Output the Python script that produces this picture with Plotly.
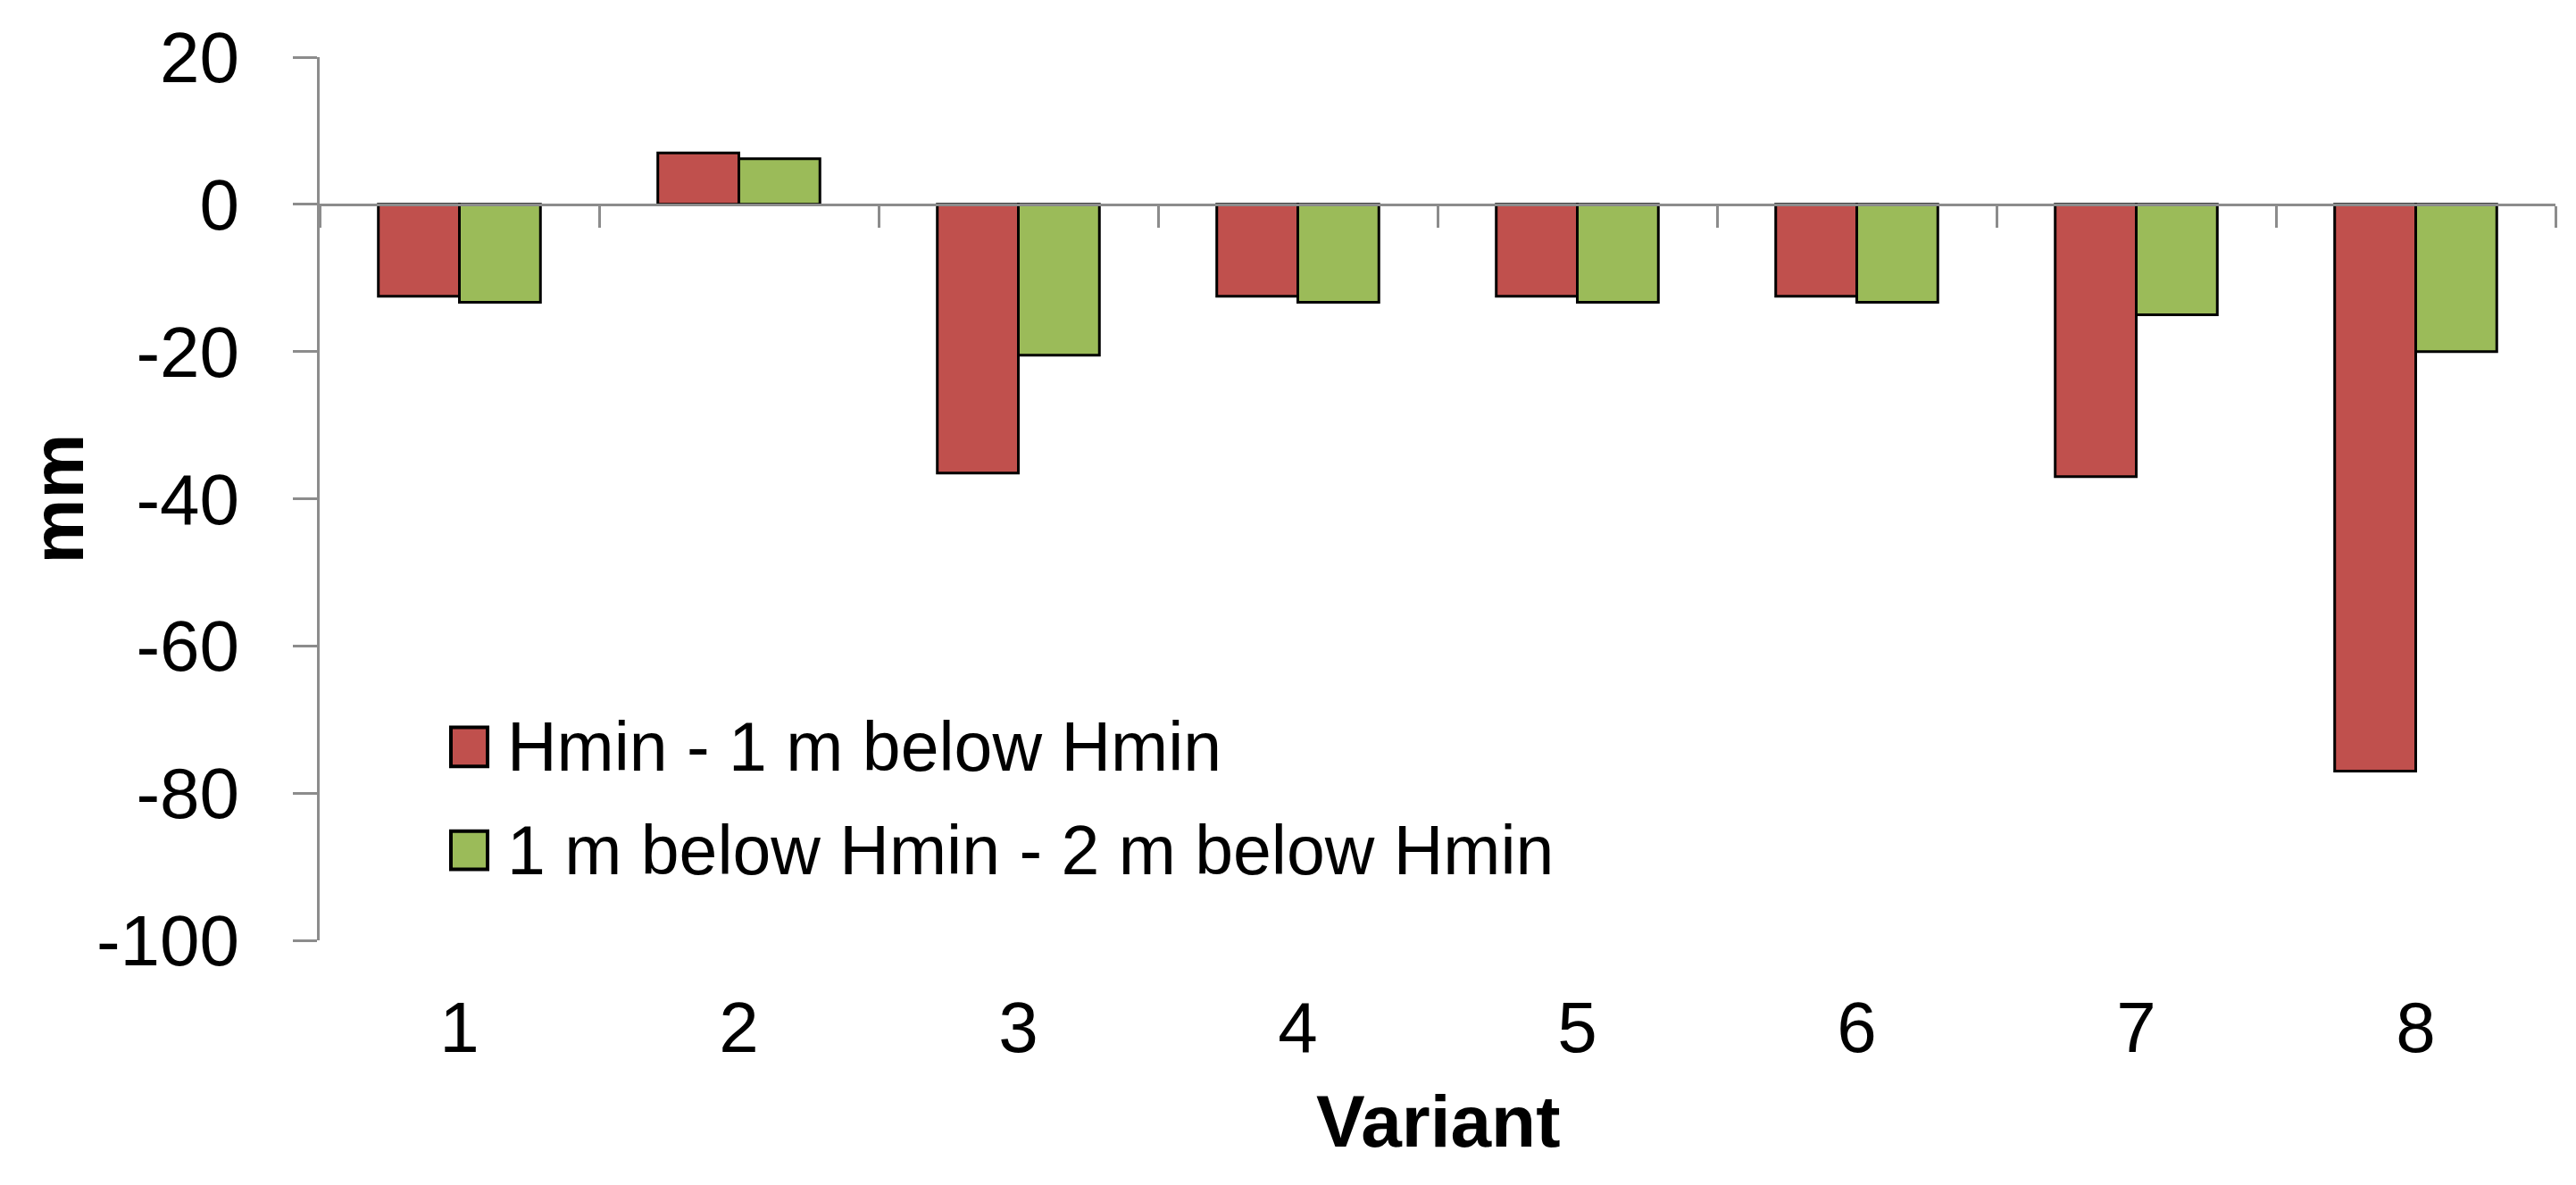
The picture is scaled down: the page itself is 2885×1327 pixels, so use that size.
import plotly.graph_objects as go

variants = [1, 2, 3, 4, 5, 6, 7, 8]
variant_labels = ["1", "2", "3", "4", "5", "6", "7", "8"]
series_names = ["Hmin - 1 m below Hmin", "1 m below Hmin - 2 m below Hmin"]
hmin_1m = [-12.5, 7.0, -36.5, -12.5, -12.5, -12.5, -37.0, -77.0]
m1_m2 = [-13.3, 6.2, -20.5, -13.3, -13.3, -13.3, -15.0, -20.0]
y_ticks = [20, 0, -20, -40, -60, -80, -100]
y_tick_labels = ["20", "0", "-20", "-40", "-60", "-80", "-100"]
colors = ["#C0504D", "#9BBB59"]

FONT = "Liberation Sans, Arial, Helvetica, sans-serif"
AXIS_GRAY = "#8C8C8C"

fig = go.Figure()
for name, vals, col in zip(series_names, [hmin_1m, m1_m2], colors):
    fig.add_trace(go.Bar(
        x=variants, y=vals, name=name,
        marker=dict(color=col, line=dict(color="black", width=3)),
        showlegend=False,
    ))

# helper trace so the zero-crossing category axis is drawn
boundaries = [v - 0.5 for v in variants] + [variants[-1] + 0.5]
fig.add_trace(go.Scatter(x=[boundaries[0], boundaries[-1]], y=[None, None],
                         xaxis="x2", showlegend=False, hoverinfo="skip"))

ymin, ymax = -100, 20
fig.update_layout(
    width=2885, height=1327,
    margin=dict(l=350, r=31, t=50, b=282),
    paper_bgcolor="white", plot_bgcolor="white",
    barmode="group", bargap=0.42, bargroupgap=0,
    font=dict(family=FONT, size=80, color="black"),
    xaxis=dict(
        range=[0.5, 8.5], tickmode="array", tickvals=variants, ticktext=variant_labels,
        showline=False, ticks="", showgrid=False, zeroline=False,
        tickfont=dict(size=80), ticklabelstandoff=44,
    ),
    xaxis2=dict(
        overlaying="x", anchor="free", position=(0 - ymin) / (ymax - ymin), side="bottom",
        range=[0.5, 8.5], tickmode="array", tickvals=boundaries, showticklabels=False,
        showline=True, linecolor=AXIS_GRAY, linewidth=3,
        ticks="outside", ticklen=24, tickwidth=3, tickcolor=AXIS_GRAY,
        showgrid=False, zeroline=False,
    ),
    yaxis=dict(
        range=[ymin, ymax], tickmode="array", tickvals=y_ticks, ticktext=y_tick_labels,
        showline=True, linecolor=AXIS_GRAY, linewidth=3,
        ticks="outside", ticklen=27, tickwidth=3, tickcolor=AXIS_GRAY,
        showgrid=False, zeroline=False, tickfont=dict(size=80),
        ticklabelstandoff=44,
    ),
)

# axis titles
fig.add_annotation(text="<b>mm</b>", xref="paper", yref="paper", x=-0.1174, y=0.5,
                   textangle=-90, showarrow=False, font=dict(size=82, family=FONT),
                   xanchor="center", yanchor="middle")
fig.add_annotation(text="<b>Variant</b>", xref="paper", yref="paper", x=0.5, y=-0.205,
                   showarrow=False, font=dict(size=82, family=FONT),
                   xanchor="center", yanchor="middle")

# legend (drawn manually to match the large square keys)
leg_rows = [(0.2412, 0.1970, 0.219), (0.1236, 0.0804, 0.1025)]
for (y0, y1, yt), name, col in zip(leg_rows, series_names, colors):
    fig.add_shape(type="rect", xref="paper", yref="paper", x0=0.0587, x1=0.0751,
                  y0=y1, y1=y0, fillcolor=col, line=dict(color="black", width=4))
    fig.add_annotation(text=name, xref="paper", yref="paper", x=0.0830, y=yt,
                       showarrow=False, xanchor="left", yanchor="middle",
                       font=dict(size=77, family=FONT))

fig.write_html("out.html")
